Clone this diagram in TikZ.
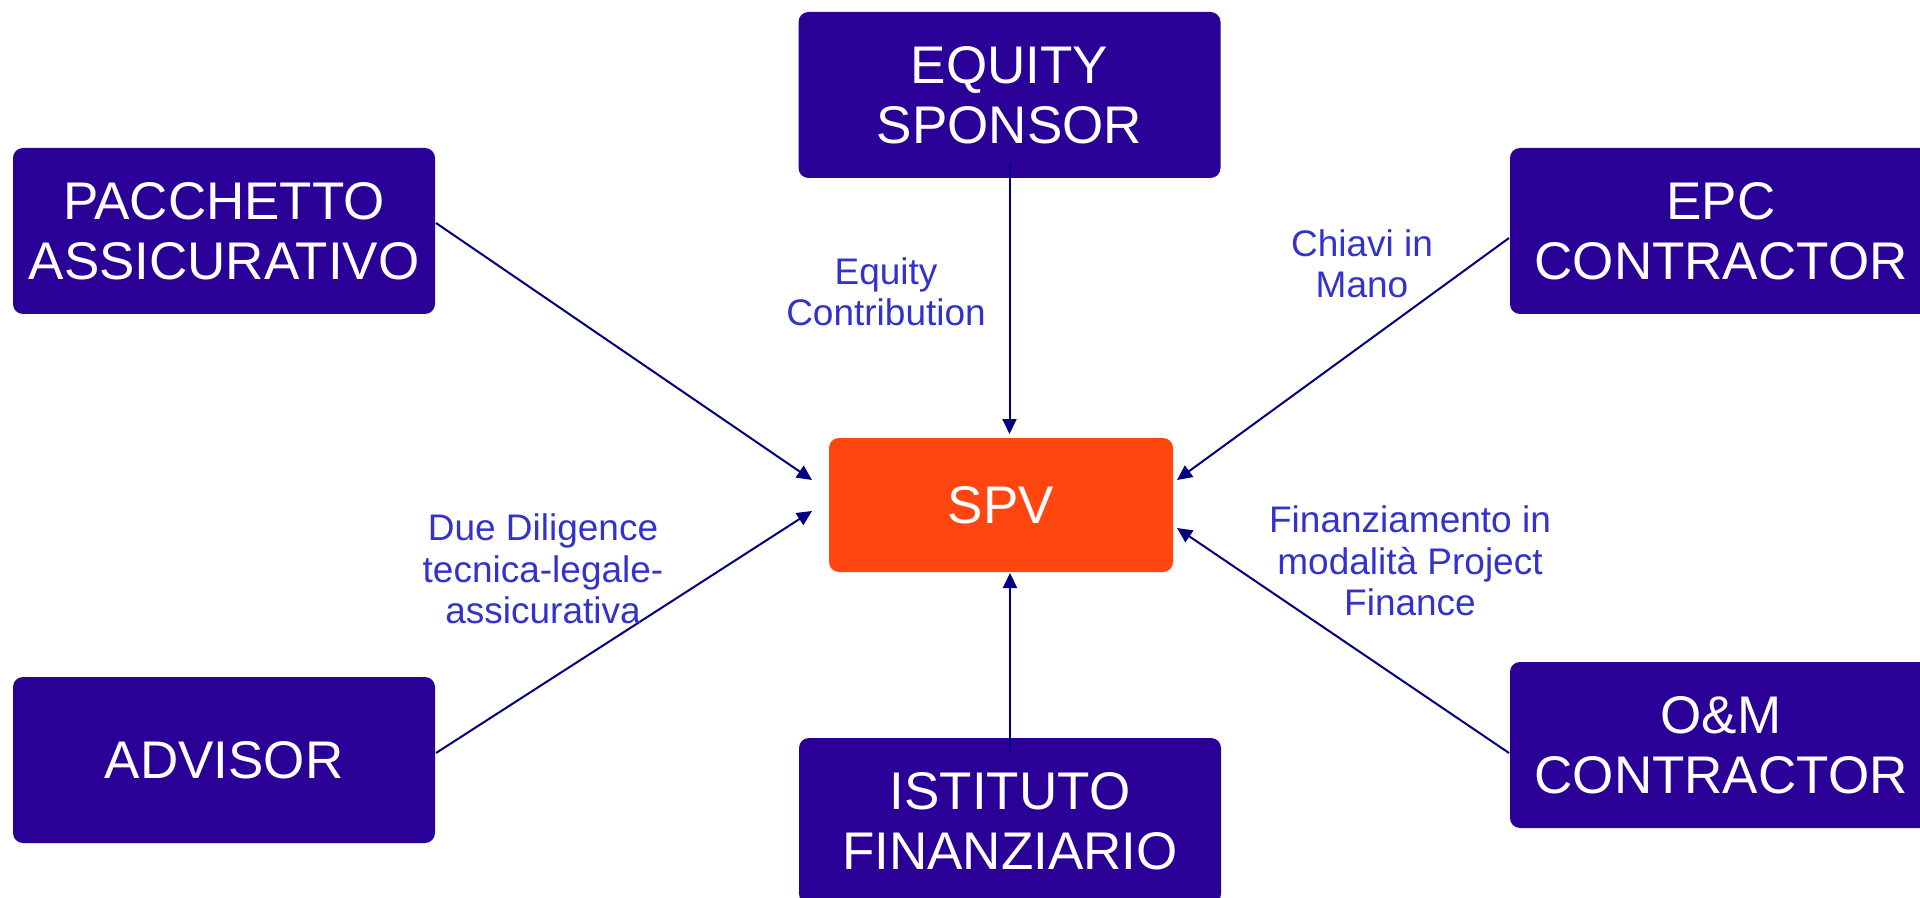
\documentclass[tikz,border=0pt]{standalone}
\usepackage{fontspec}
\setmainfont{Liberation Sans}
\usetikzlibrary{arrows.meta}

\definecolor{boxpurple}{RGB}{42,0,150}
\definecolor{spvorange}{RGB}{255,69,16}
\definecolor{labelblue}{RGB}{51,51,204}
\definecolor{linenavy}{RGB}{0,0,128}

\tikzset{every picture/.style={line width=1pt}}
\tikzset{
  party/.style={fill=boxpurple, rounded corners=5pt, minimum width=211pt, minimum height=83pt,
    text=white, align=center, inner sep=0pt, font=\fontsize{26.5}{30}\selectfont},
  vehicle/.style={party, fill=spvorange, minimum width=172pt, minimum height=67pt},
  flowlabel/.style={text=labelblue, align=center, inner sep=0pt, font=\fontsize{18.5}{20.75}\selectfont},
  flow/.style={draw=linenavy, -{Triangle[length=7.5pt,width=7pt]}}
}

\begin{document}
\begin{tikzpicture}[x=0.5pt,y=0.5pt,yscale=-1,xscale=1]
\useasboundingbox (0,0) rectangle (1920,898);

%Shape: boxes
\node[party] (sponsor) at (1009.5,95) {EQUITY\\SPONSOR};
\node[party] (insurance) at (224,231) {PACCHETTO\\ASSICURATIVO};
\node[party] (epc) at (1721,231) {EPC\\CONTRACTOR};
\node[vehicle] (spv) at (1001,505) {SPV};
\node[party] (advisor) at (224,760) {ADVISOR};
\node[party] (bank) at (1010,821) {ISTITUTO\\FINANZIARIO};
\node[party] (om) at (1721,745) {O\&M\\CONTRACTOR};

%Shape: arrows into the SPV (yshift runs downward here, yscale=-1)
\draw[flow, shorten >=1.5pt] ([yshift=-7.5pt]sponsor.south) -- (sponsor.south |- spv.north);
\draw[flow] ([yshift=-4pt]insurance.east) -- ([xshift=-8pt,yshift=-12.5pt]spv.west);
\draw[flow] ([yshift=-3.5pt]advisor.east) -- ([xshift=-8pt,yshift=3pt]spv.west);
\draw[flow] ([yshift=3.5pt]epc.west) -- ([xshift=1.5pt,yshift=-12.5pt]spv.east);
\draw[flow] ([yshift=4pt]om.west) -- ([xshift=1.5pt,yshift=11.5pt]spv.east);
\draw[flow] ([yshift=7.5pt]bank.north) -- (bank.north |- spv.south);

% Text Node
\node[flowlabel] (equitylbl) at (886,292) {Equity\\Contribution};
% Text Node
\node[flowlabel] (turnkeylbl) at (1362,264) {Chiavi in\\Mano};
% Text Node
\node[flowlabel] (duelbl) at (543,569) {Due Diligence\\tecnica-legale-\\assicurativa};
% Text Node
\node[flowlabel] (loanlbl) at (1410,561) {Finanziamento in\\modalità Project\\Finance};

\end{tikzpicture}
\end{document}
